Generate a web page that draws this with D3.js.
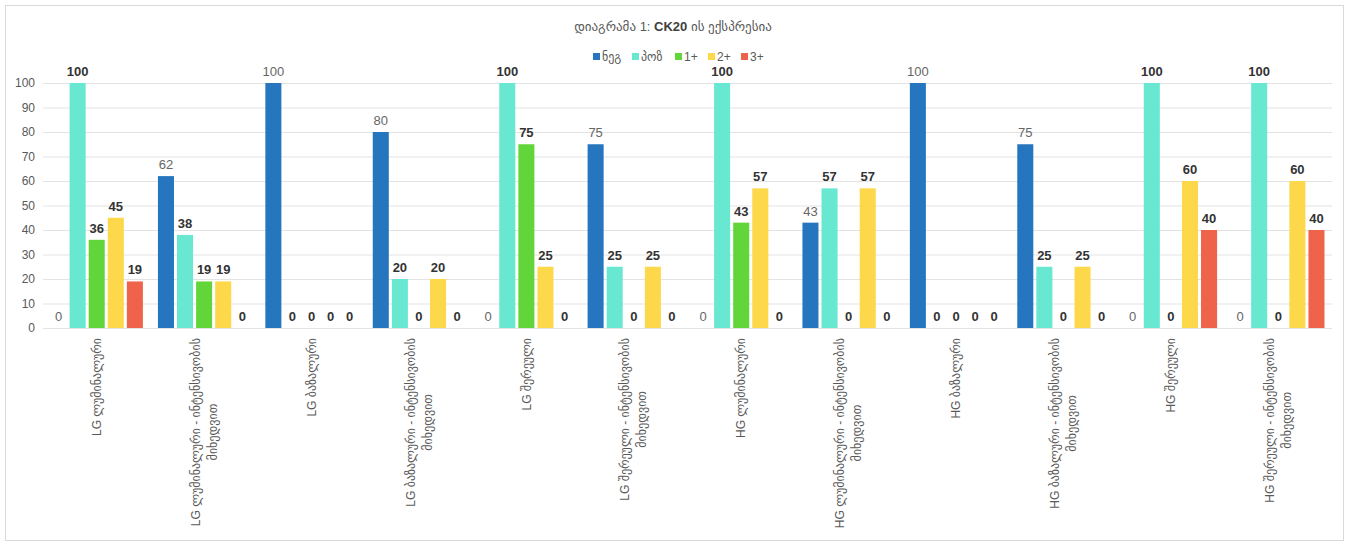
<!DOCTYPE html>
<html><head><meta charset="utf-8">
<script src="https://cdn.jsdelivr.net/npm/d3@7"></script>
<style>
html,body{margin:0;padding:0;background:#fff;}
svg{display:block;font-family:"Liberation Sans","DejaVu Sans",Arial,sans-serif;}
</style></head>
<body>
<svg id="chart" width="1346" height="544"></svg>
<script>
const categories = [
  "LG ლუმინალური",
  "LG ლუმინალური - ინტენსივობის მიხედვით",
  "LG ბაზალური",
  "LG ბაზალური - ინტენსივობის მიხედვით",
  "LG შერეული",
  "LG შერეული - ინტენსივობის მიხედვით",
  "HG ლუმინალური",
  "HG ლუმინალური - ინტენსივობის მიხედვით",
  "HG ბაზალური",
  "HG ბაზალური - ინტენსივობის მიხედვით",
  "HG შერეული",
  "HG შერეული - ინტენსივობის მიხედვით"
];
const seriesNames = ["ნეგ", "პოზ", "1+", "2+", "3+"];
const negValues   = [0, 62, 100, 80, 0, 75, 0, 43, 100, 75, 0, 0];
const posValues   = [100, 38, 0, 20, 100, 25, 100, 57, 0, 25, 100, 100];
const plus1Values = [36, 19, 0, 0, 75, 0, 43, 0, 0, 0, 0, 0];
const plus2Values = [45, 19, 0, 20, 25, 25, 57, 57, 0, 25, 60, 60];
const plus3Values = [19, 0, 0, 0, 0, 0, 0, 0, 0, 0, 40, 40];
const yTicks = [0, 10, 20, 30, 40, 50, 60, 70, 80, 90, 100];
const colors = ["#2576bf", "#68e7d1", "#62d53a", "#fdd84b", "#ee634a"];

const allValues = [negValues, posValues, plus1Values, plus2Values, plus3Values];

const svg = d3.select("#chart");
const W = 1346, H = 544;

svg.append("rect").attr("x", 5.5).attr("y", 5.5).attr("width", W - 8).attr("height", H - 9)
  .attr("fill", "#fff").attr("stroke", "#d9d9d9");

const plotLeft = 43, plotRight = 1332, plotTop = 83, plotBottom = 328;

const y = d3.scaleLinear().domain([0, 100]).range([plotBottom, plotTop]);
const x0 = d3.scaleBand().domain(categories).range([plotLeft, plotRight]).paddingInner(0.14).paddingOuter(0.07);
const x1 = d3.scaleBand().domain(seriesNames).range([0, x0.bandwidth()]).paddingInner(0.16).paddingOuter(0);

const title = svg.append("text").attr("x", 673).attr("y", 31).attr("text-anchor", "middle")
  .attr("font-size", 13).attr("fill", "#595959");
title.append("tspan").text("დიაგრამა 1: ");
title.append("tspan").attr("font-weight", "bold").attr("fill", "#404040").text("CK20");
title.append("tspan").text(" ის ექსპრესია");

const legendX = [593, 632, 675, 708, 741];
const legend = svg.append("g");
seriesNames.forEach((s, i) => {
  legend.append("rect").attr("x", legendX[i]).attr("y", 53).attr("width", 7).attr("height", 7).attr("fill", colors[i]);
  legend.append("text").attr("x", legendX[i] + 9).attr("y", 61).attr("font-size", 12).attr("fill", "#595959").text(s);
});

const yAxis = d3.axisLeft(y).tickValues(yTicks).tickSize(-(plotRight - plotLeft)).tickPadding(8);
const gy = svg.append("g").attr("transform", `translate(${plotLeft},0)`).call(yAxis);
gy.select(".domain").remove();
gy.selectAll(".tick line").attr("stroke", "#e3e3e3").attr("stroke-width", 1);
gy.selectAll(".tick text").attr("font-size", 12).attr("fill", "#595959")
  .attr("font-family", "Liberation Sans, Arial, sans-serif");

const groups = svg.append("g").selectAll("g").data(categories).join("g")
  .attr("transform", d => `translate(${x0(d)},0)`);

groups.each(function(cat, ci) {
  const g = d3.select(this);
  seriesNames.forEach((s, si) => {
    const v = allValues[si][ci];
    if (v > 0) {
      g.append("rect").attr("x", x1(s)).attr("y", y(v)).attr("width", x1.bandwidth())
        .attr("height", y(0) - y(v)).attr("fill", colors[si]);
    }
    const lbl = g.append("text").attr("x", x1(s) + x1.bandwidth() / 2).attr("y", y(v) - 7)
      .attr("text-anchor", "middle").text(v);
    if (si === 0) {
      lbl.attr("font-size", 13).attr("fill", "#666");
    } else {
      lbl.attr("font-size", 13).attr("font-weight", "bold").attr("fill", "#333");
    }
  });
});

const xl = svg.append("g");
const maxW = 205;
categories.forEach(cat => {
  const cx = x0(cat) + x0.bandwidth() / 2;
  const g = xl.append("g").attr("transform", `translate(${cx},338) rotate(-90)`);
  const words = cat.split(" ");
  const measure = g.append("text").attr("font-size", 12);
  const lines = [];
  let cur = [];
  words.forEach(w => {
    const test = cur.concat([w]).join(" ");
    measure.text(test);
    if (measure.node().getComputedTextLength() > maxW && cur.length) {
      lines.push(cur.join(" "));
      cur = [w];
    } else cur.push(w);
  });
  if (cur.length) lines.push(cur.join(" "));
  let maxLen = 0;
  lines.forEach(l => { measure.text(l); maxLen = Math.max(maxLen, measure.node().getComputedTextLength()); });
  measure.remove();
  const lh = 17;
  lines.forEach((l, i) => {
    g.append("text").attr("x", -maxLen / 2).attr("y", (i - (lines.length - 1) / 2) * lh)
      .attr("dy", "0.35em").attr("text-anchor", "middle").attr("font-size", 12)
      .attr("fill", "#595959").text(l);
  });
});
</script>
</body></html>
